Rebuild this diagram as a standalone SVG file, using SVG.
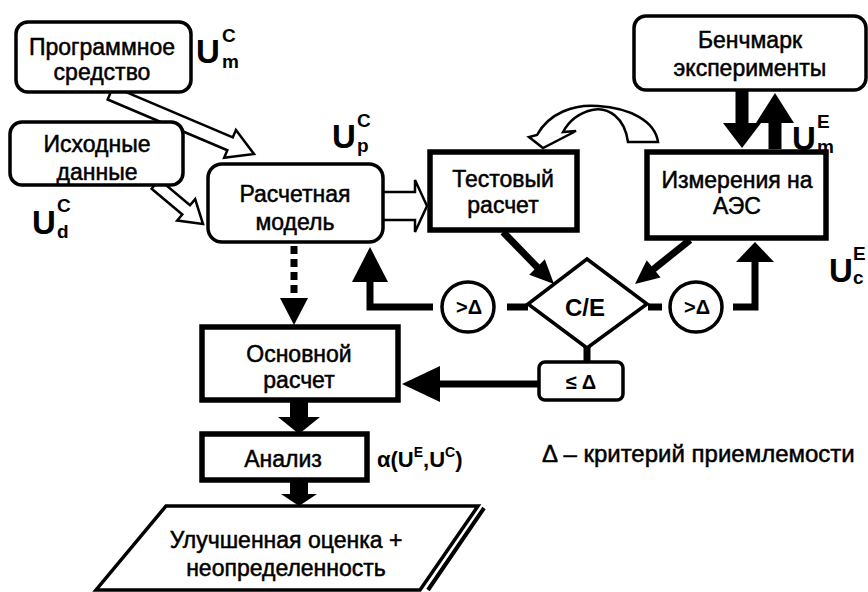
<svg xmlns="http://www.w3.org/2000/svg" width="868" height="592" viewBox="0 0 868 592">
<style>
text{font-family:"Liberation Sans",Arial,sans-serif;fill:#000}
.t{font-size:23px;text-anchor:middle;stroke:#000;stroke-width:0.5}
.u{font-size:33px;font-weight:bold}
.s{font-size:19px;font-weight:bold}
.rb{fill:#fff;stroke:#000;stroke-width:3.5}
.tb{fill:#fff;stroke:#000;stroke-width:5.5}
.ln{fill:none;stroke:#000;stroke-width:7}
.hd{fill:#000;stroke:none}
.ho{fill:#fff;stroke:#000;stroke-width:2.5;stroke-linejoin:miter}
.c{font-size:20px;font-weight:bold;text-anchor:middle}
</style>
<rect width="868" height="592" fill="#fff"/>

<g id="connectors">
  <polygon class="ho" transform="translate(254,154) rotate(23)" points="0,0 -26,-15 -26,-7 -156,-7 -156,7 -26,7 -26,15"/>
  <polygon class="ho" transform="translate(203,224) rotate(40)" points="0,0 -22,-14 -22,-6 -62,-6 -62,6 -22,6 -22,14"/>
  <polygon class="ho" transform="translate(427,206)" points="0,0 -12,-26 -12,-14 -46,-14 -46,14 -12,14 -12,26"/>
  <path class="ho" d="M628,142 C625,118 608,106 592,110 C579,113 569,121 563,132 L576,131 L543,148 L529,137 L537,135 C549,113 574,104 598,106 C630,108 655,121 658,142 Z"/>
  <rect x="735.5" y="90" width="13" height="34" class="hd"/>
  <polygon class="hd" points="723,123 761,123 742,148"/>
  <rect x="768.5" y="121" width="13" height="28" class="hd"/>
  <polygon class="hd" points="756,123 794,123 775,93"/>
  <line class="ln" x1="503" y1="232" x2="540" y2="270"/>
  <polygon class="hd" transform="translate(554,284) rotate(45)" points="0,0 -24,-11 -24,11"/>
  <line class="ln" x1="690" y1="240" x2="650" y2="272"/>
  <polygon class="hd" transform="translate(635,284) rotate(141)" points="0,0 -24,-11 -24,11"/>
  <line class="ln" x1="507" y1="307" x2="528" y2="307"/>
  <polyline class="ln" points="433,307 370,307 370,280"/>
  <polygon class="hd" points="352,282 388,282 370,247"/>
  <line class="ln" x1="648" y1="307" x2="662" y2="307"/>
  <polyline class="ln" points="733,307 755,307 755,258"/>
  <polygon class="hd" points="736,262 774,262 755,242"/>
  <line class="ln" x1="587" y1="347" x2="587" y2="363"/>
  <line class="ln" x1="538" y1="384" x2="436" y2="384"/>
  <polygon class="hd" points="440,366 440,402 402,384"/>
  <line class="ln" x1="294" y1="246" x2="294" y2="299" stroke-dasharray="8,5"/>
  <polygon class="hd" points="280,298 308,298 294,325"/>
  <rect x="290" y="400" width="18" height="19" class="hd"/>
  <polygon class="hd" points="278,417 320,417 299,434"/>
  <rect x="290" y="480" width="18" height="16" class="hd"/>
  <polygon class="hd" points="281,494 317,494 299,506"/>
</g>

<g id="software">
  <rect class="rb" x="16" y="22" width="175" height="70" rx="12"/>
  <text class="t" x="102" y="55">Программное</text>
  <text class="t" x="102" y="80">средство</text>
</g>
<g id="u-m-c">
  <text class="u" x="196" y="63">U</text>
  <text class="s" x="222" y="42">C</text>
  <text class="s" x="222" y="68">m</text>
</g>
<g id="input">
  <rect class="rb" x="10" y="122" width="173" height="63" rx="12"/>
  <text class="t" x="97" y="152">Исходные</text>
  <text class="t" x="97" y="180">данные</text>
</g>
<g id="u-d-c">
  <text class="u" x="32" y="234">U</text>
  <text class="s" x="57" y="212">C</text>
  <text class="s" x="57" y="238">d</text>
</g>
<g id="model">
  <rect class="rb" x="208" y="164" width="175" height="78" rx="14" stroke-width="4.5"/>
  <text class="t" x="295" y="202">Расчетная</text>
  <text class="t" x="295" y="230">модель</text>
</g>
<g id="u-p-c">
  <text class="u" x="332" y="148">U</text>
  <text class="s" x="357" y="127">C</text>
  <text class="s" x="357" y="152">p</text>
</g>
<g id="test">
  <rect class="tb" x="430" y="152" width="147" height="78"/>
  <text class="t" x="503" y="187">Тестовый</text>
  <text class="t" x="503" y="213">расчет</text>
</g>
<g id="benchmark">
  <rect class="rb" x="634" y="16" width="232" height="74" rx="12"/>
  <text class="t" x="750" y="48">Бенчмарк</text>
  <text class="t" x="750" y="76">эксперименты</text>
</g>
<g id="u-m-e">
  <text class="u" x="792" y="150">U</text>
  <text class="s" x="817" y="128">E</text>
  <text class="s" x="817" y="153">m</text>
</g>
<g id="measure">
  <rect class="tb" x="647" y="152" width="179" height="86"/>
  <text class="t" x="737" y="188">Измерения на</text>
  <text class="t" x="737" y="214">АЭС</text>
</g>
<g id="u-c-e">
  <text class="u" x="829" y="282">U</text>
  <text class="s" x="853" y="260">E</text>
  <text class="s" x="853" y="284">c</text>
</g>
<g id="ce">
  <polygon fill="#fff" stroke="#000" stroke-width="3.5" points="587,259 647,304 587,348 528,304"/>
  <text class="c" x="585" y="316" style="font-size:24px">C/E</text>
</g>
<g id="gt-left">
  <ellipse cx="468" cy="307" rx="26" ry="25" fill="#fff" stroke="#000" stroke-width="3.5"/>
  <text class="c" x="469" y="314">&gt;Δ</text>
</g>
<g id="gt-right">
  <ellipse cx="696" cy="307" rx="26" ry="25" fill="#fff" stroke="#000" stroke-width="3.5"/>
  <text class="c" x="697" y="314">&gt;Δ</text>
</g>
<g id="le">
  <rect class="rb" x="539" y="362" width="84" height="38" rx="6"/>
  <text class="c" x="581" y="389">≤ Δ</text>
</g>
<g id="main">
  <rect class="tb" x="202" y="327" width="196" height="73"/>
  <text class="t" x="299" y="362">Основной</text>
  <text class="t" x="299" y="388">расчет</text>
</g>
<g id="analysis">
  <rect class="tb" x="202" y="434" width="165" height="46"/>
  <text class="t" x="283" y="467">Анализ</text>
</g>
<g id="alpha">
  <text x="377" y="467" font-size="22" font-weight="bold">α(U<tspan font-size="14" dy="-10">E</tspan><tspan dy="10">,U</tspan><tspan font-size="14" dy="-10">C</tspan><tspan dy="10">)</tspan></text>
</g>
<g id="legend">
  <text x="542" y="462" font-size="24" stroke="#000" stroke-width="0.5">Δ – критерий приемлемости</text>
</g>
<g id="result">
  <polygon fill="none" stroke="#000" stroke-width="4" points="484,508 428,590"/>
  <polygon fill="#fff" stroke="#000" stroke-width="3.5" points="166,506 478,506 420,590 96,590"/>
  <text class="t" x="286" y="548">Улучшенная оценка +</text>
  <text class="t" x="286" y="576">неопределенность</text>
</g>
</svg>
